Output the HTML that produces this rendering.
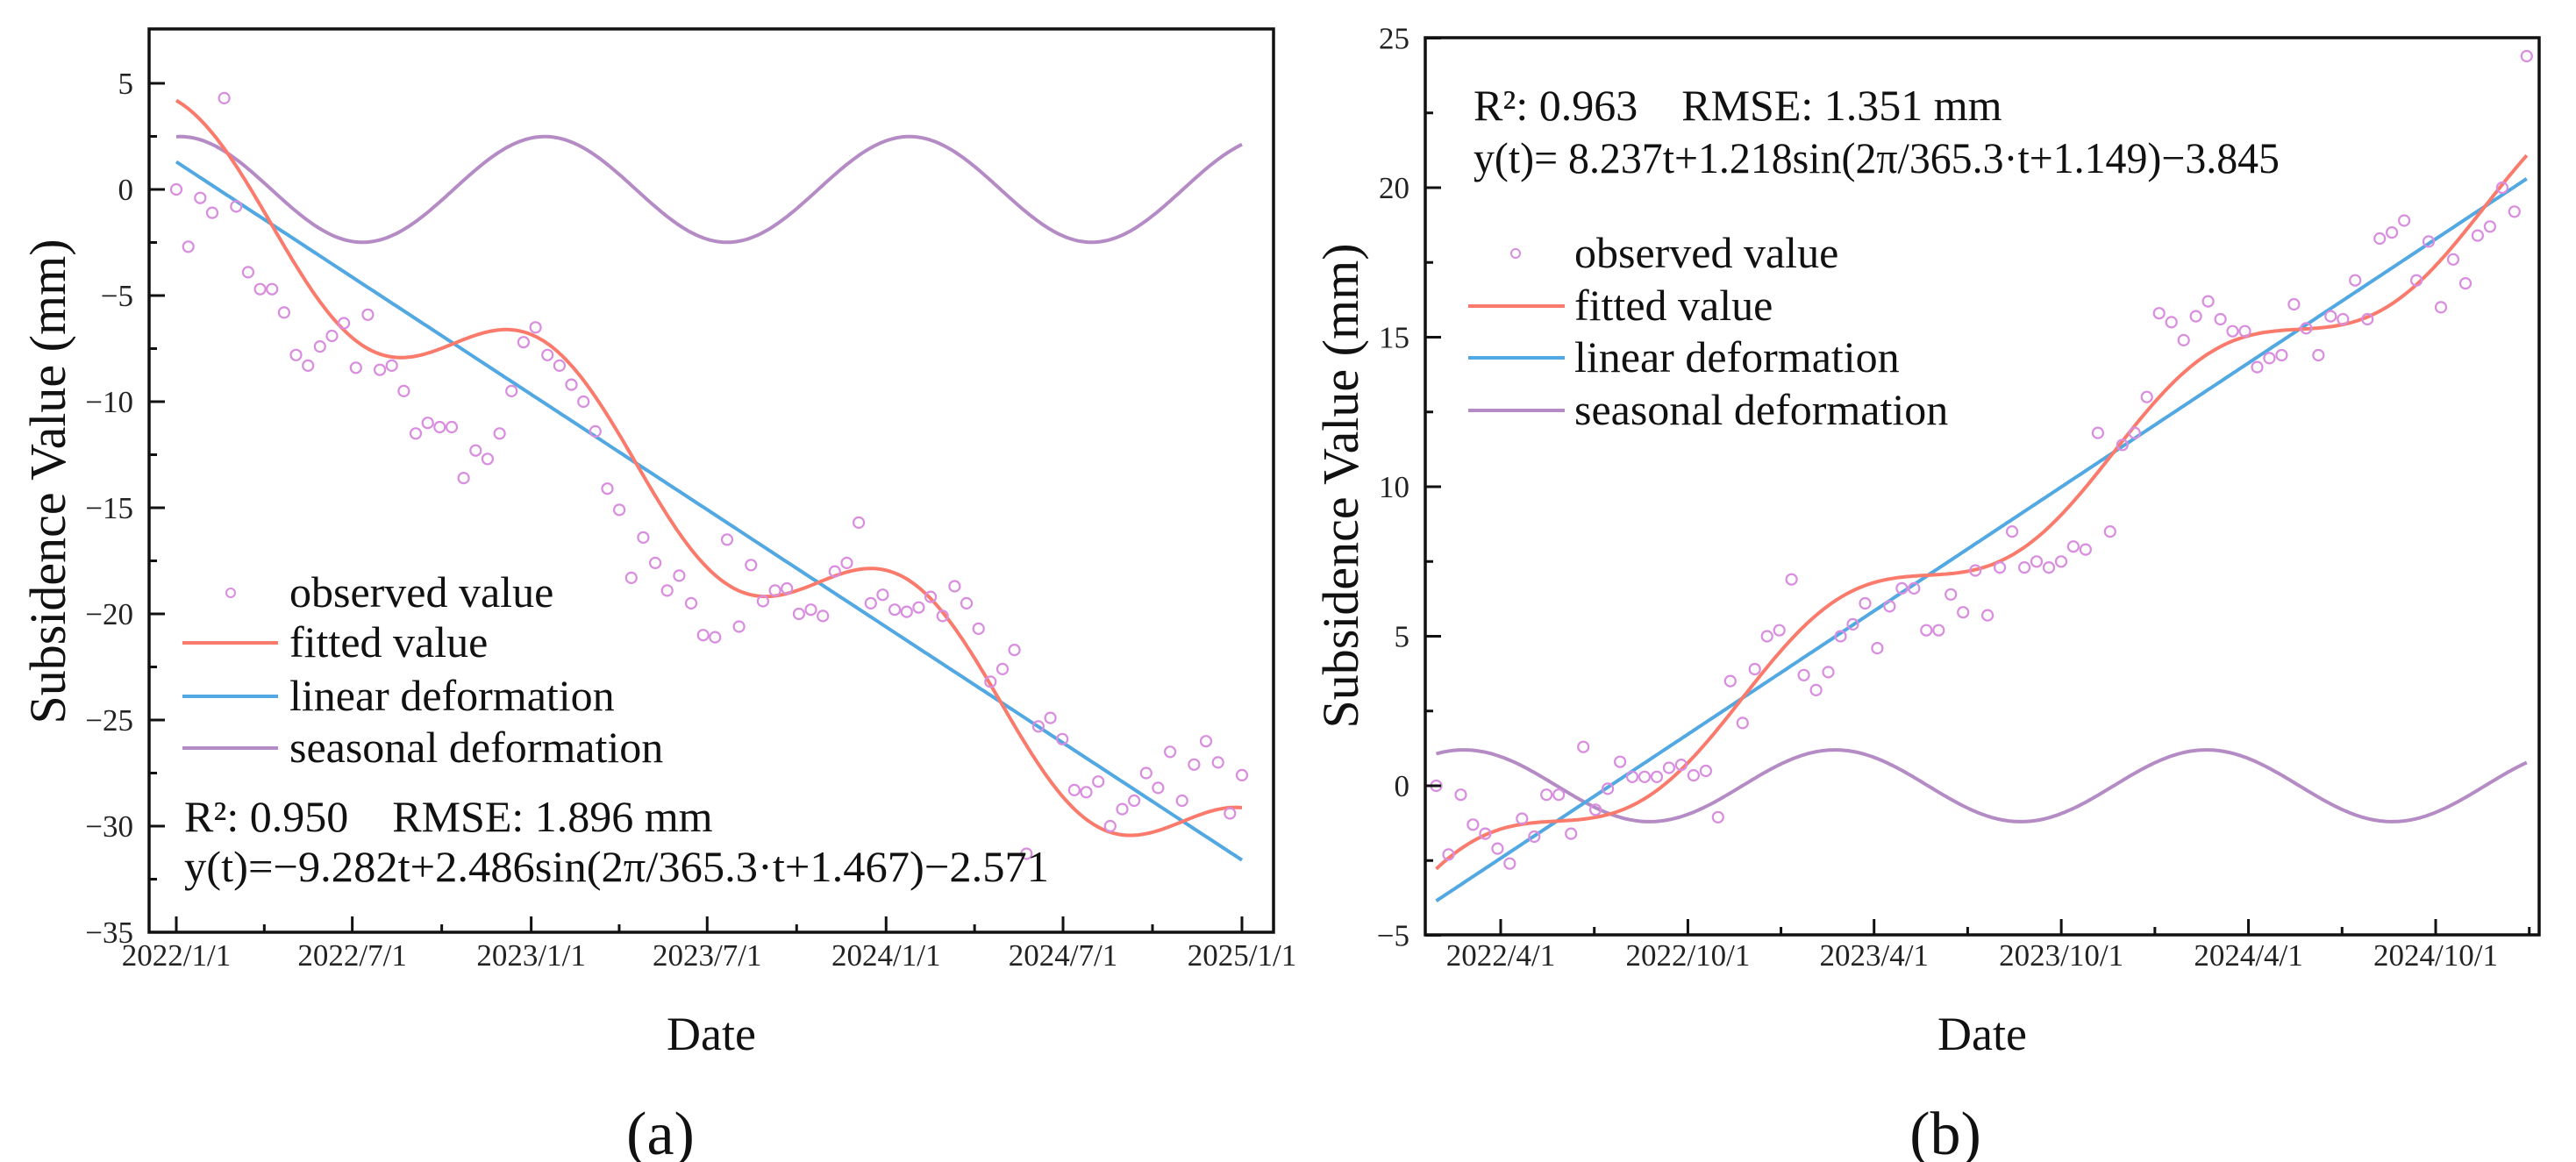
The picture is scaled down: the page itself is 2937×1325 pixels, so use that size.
<!DOCTYPE html>
<html><head><meta charset="utf-8"><style>
html,body{margin:0;padding:0;background:#fff;}
svg{display:block;font-family:"Liberation Serif",serif;}
text{white-space:pre;}
</style></head><body>
<svg id="fig" width="2937" height="1325" viewBox="0 0 2937 1325" xmlns="http://www.w3.org/2000/svg">
<g id="pa"></g>
<g id="pb"></g>
</svg>
<script>
// ---------- Panel (a) data ----------
const obsA = [0,-2.7,-0.4,-1.1,4.3,-0.8,-3.9,-4.7,-4.7,-5.8,-7.8,-8.3,-7.4,-6.9,-6.3,-8.4,-5.9,-8.5,-8.3,-9.5,
-11.5,-11.0,-11.2,-11.2,-13.6,-12.3,-12.7,-11.5,-9.5,-7.2,-6.5,-7.8,-8.3,-9.2,-10.0,-11.4,-14.1,-15.1,-18.3,-16.4,
-17.6,-18.9,-18.2,-19.5,-21.0,-21.1,-16.5,-20.6,-17.7,-19.4,-18.9,-18.8,-20.0,-19.8,-20.1,-18.0,-17.6,-15.7,-19.5,-19.1,
-19.8,-19.9,-19.7,-19.2,-20.1,-18.7,-19.5,-20.7,-23.2,-22.6,-21.7,-31.3,-25.3,-24.9,-25.9,-28.3,-28.4,-27.9,-30.0,-29.2,
-28.8,-27.5,-28.2,-26.5,-28.8,-27.1,-26.0,-27.0,-29.4,-27.6];
const obsDaysA = [0, 1096];
const linearA = [1.3, -31.6];
const seasonalA = [2.49, 375, 4];      // amplitude, period(days), peak day
const fitAmpA = [2.9];                 // seasonal amplitude used in fitted curve
const yTicksA = [-35,-30,-25,-20,-15,-10,-5,0,5];
const xTickDaysA = [0,181,365,546,730,912,1096];
const xTickLabelsA = ["2022/1/1","2022/7/1","2023/1/1","2023/7/1","2024/1/1","2024/7/1","2025/1/1"];
// ---------- Panel (b) data ----------
const obsB = [0.0,-2.3,-0.3,-1.3,-1.6,-2.1,-2.6,-1.1,-1.7,-0.3,
-0.3,-1.6,1.3,-0.8,-0.1,0.8,0.3,0.3,0.3,0.6,
0.7,0.35,0.5,-1.05,3.5,2.1,3.9,5.0,5.2,6.9,
3.7,3.2,3.8,5.0,5.4,6.1,4.6,6.0,6.6,6.6,
5.2,5.2,6.4,5.8,7.2,5.7,7.3,8.5,7.3,7.5,
7.3,7.5,8.0,7.9,11.8,8.5,11.4,11.8,13.0,15.8,
15.5,14.9,15.7,16.2,15.6,15.2,15.2,14.0,14.3,14.4,
16.1,15.3,14.4,15.7,15.6,16.9,15.6,18.3,18.5,18.9,
16.9,18.2,16.0,17.6,16.8,18.4,18.7,20.0,19.2,24.4];
const obsDaysB = [27, 1093];
const linearB = [-3.85, 20.3];
const seasonalB = [1.2, 363, 54];
const fitAmpB = [1.2];
const yTicksB = [-5,0,5,10,15,20,25];
const xTickDaysB = [90,273,455,638,821,1004];
const xTickLabelsB = ["2022/4/1","2022/10/1","2023/4/1","2023/10/1","2024/4/1","2024/10/1"];

const NS="http://www.w3.org/2000/svg";
const C_OBS="#d98ddf", C_FIT="#fa7a6c", C_LIN="#52a8e2", C_SEA="#b48bc5";
function mk(parent, tag, attrs){const e=document.createElementNS(NS,tag);for(const k in attrs)e.setAttribute(k,attrs[k]);parent.appendChild(e);return e;}

function drawPanel(g, cfg){
  const xs = d => cfg.x0 + (d - cfg.d0) * cfg.pxPerDay;
  const ys = v => cfg.yZero - v * cfg.pxPerUnit;
  const n = cfg.obs.length;
  const dayOf = i => cfg.obsDays[0] + (cfg.obsDays[1]-cfg.obsDays[0]) * i/(n-1);
  const lin = d => cfg.linear[0] + (cfg.linear[1]-cfg.linear[0])*(d-cfg.obsDays[0])/(cfg.obsDays[1]-cfg.obsDays[0]);
  const cosT = d => Math.cos(2*Math.PI*(d-cfg.seasonal[2])/cfg.seasonal[1]);
  const sea = d => cfg.seasonal[0]*cosT(d);
  const fit = d => lin(d) + cfg.fitAmp[0]*cosT(d);
  const cid = cfg.id+"clip";
  const defs = mk(g,"defs",{});
  const cp = mk(defs,"clipPath",{id:cid});
  mk(cp,"rect",{x:cfg.L,y:cfg.T,width:cfg.R-cfg.L,height:cfg.B-cfg.T});
  const plot = mk(g,"g",{"clip-path":"url(#"+cid+")"});
  
  
  function curve(fn, color, name){
    let d=""; const a=cfg.obsDays[0], b=cfg.obsDays[1];
    for(let k=0;k<=400;k++){const day=a+(b-a)*k/400; d+=(k?"L":"M")+xs(day).toFixed(1)+","+ys(fn(day)).toFixed(1);}
    const p = mk(plot,"path",{d:d,fill:"none",stroke:color,"stroke-width":4,"stroke-linejoin":"round"});
    
    
  }
  curve(sea, C_SEA, "seasonal-deformation-line");
  curve(lin, C_LIN, "linear-deformation-line");
  curve(fit, C_FIT, "fitted-value-line");
  for(let i=0;i<n;i++){
    const c = mk(plot,"circle",{cx:xs(dayOf(i)).toFixed(1),cy:ys(cfg.obs[i]).toFixed(1),r:6,fill:"none",stroke:C_OBS,"stroke-width":2.2});
    
    
  }
  const fr = mk(g,"rect",{x:cfg.L,y:cfg.T,width:cfg.R-cfg.L,height:cfg.B-cfg.T,fill:"none",stroke:"#111","stroke-width":3.5});
  
  
  const yt = cfg.yTicks;
  for(let i=0;i<yt.length;i++){
    const y=ys(yt[i]);
    mk(g,"line",{x1:cfg.L,x2:cfg.L+18,y1:y,y2:y,stroke:"#111","stroke-width":3});
    if(i<yt.length-1){const ym=ys((yt[i]+yt[i+1])/2); mk(g,"line",{x1:cfg.L,x2:cfg.L+9,y1:ym,y2:ym,stroke:"#111","stroke-width":3});}
    const t = mk(g,"text",{x:cfg.L-18,y:y+12,"text-anchor":"end","font-size":35,fill:"#222"});
    t.textContent = String(yt[i]).replace("-","\u2212");
    
    
  }
  const xt = cfg.xTickDays;
  for(let i=0;i<xt.length;i++){
    const x=xs(xt[i]);
    mk(g,"line",{x1:x,x2:x,y1:cfg.B,y2:cfg.B-18,stroke:"#111","stroke-width":3});
    const t = mk(g,"text",{x:x,y:cfg.xLabY,"text-anchor":"middle","font-size":35,fill:"#222"});
    t.textContent = cfg.xTickLabels[i];
    
    
  }
  for(let i=-1;i<xt.length;i++){
    const a = i<0 ? xt[0]-(xt[1]-xt[0]) : xt[i];
    const b = i+1<xt.length ? xt[i+1] : xt[i]+(xt[1]-xt[0]);
    const xm = xs((a+b)/2);
    if(xm>cfg.L+2 && xm<cfg.R-2) mk(g,"line",{x1:xm,x2:xm,y1:cfg.B,y2:cfg.B-9,stroke:"#111","stroke-width":3});
  }
  const yt2 = mk(g,"text",{x:0,y:0,"text-anchor":"middle","font-size":58,fill:"#111",transform:`translate(${cfg.yTitleX},${cfg.yTitleY}) rotate(-90)`,dy:20});
  yt2.textContent="Subsidence Value (mm)";
  
  
  const xtT = mk(g,"text",{x:cfg.dateX,y:cfg.dateY+19,"text-anchor":"middle","font-size":54,fill:"#111"});
  xtT.textContent="Date";
  
  
  const pl = mk(g,"text",{x:cfg.capX,y:cfg.capY+24,"text-anchor":"middle","font-size":70,fill:"#111"});
  pl.textContent=cfg.caption;
  
  
  const lg = mk(g,"g",{});
  
  
  const items=[["observed value",C_OBS,"o"],["fitted value",C_FIT,"l"],["linear deformation",C_LIN,"l"],["seasonal deformation",C_SEA,"l"]];
  items.forEach((it,k)=>{
    const y=cfg.legY[k];
    if(it[2]==="o"){mk(lg,"circle",{cx:cfg.legMX,cy:y,r:5,fill:"none",stroke:it[1],"stroke-width":2});}
    else mk(lg,"line",{x1:cfg.legL1,x2:cfg.legL2,y1:y,y2:y,stroke:it[1],"stroke-width":4});
    const t=mk(lg,"text",{x:cfg.legTX,y:y+16,"font-size":50,fill:"#111"});
    t.textContent=it[0];
    
    
  });
  const a1=mk(g,"text",{x:cfg.annX,y:cfg.annY[0]+16,"font-size":50,fill:"#111"});
  a1.textContent=cfg.ann[0];
  
  
  const a2=mk(g,"text",{x:cfg.annX,y:cfg.annY[1]+16,"font-size":50,fill:"#111",textLength:cfg.annLen,lengthAdjust:"spacingAndGlyphs"});
  a2.textContent=cfg.ann[1];
  
  
}

drawPanel(document.getElementById("pa"),{
  id:"a", L:170,R:1452,T:33,B:1063, x0:201,d0:0,pxPerDay:1215/1096, yZero:216,pxPerUnit:24.2,
  obs:obsA, obsDays:obsDaysA, linear:linearA, seasonal:seasonalA, fitAmp:fitAmpA,
  yTicks:yTicksA, xTickDays:xTickDaysA, xTickLabels:xTickLabelsA, xLabY:1101,
  yTitleX:54,yTitleY:549, dateX:811,dateY:1178, capX:753,capY:1292, caption:"(a)",
  legY:[676,733,794,853], legMX:263, legL1:208, legL2:317, legTX:330,
  annX:210, annY:[932,989], annLen:986,
  ann:["R\u00b2: 0.950    RMSE: 1.896 mm","y(t)=\u22129.282t+2.486sin(2\u03c0/365.3\u00b7t+1.467)\u22122.571"]
});
drawPanel(document.getElementById("pb"),{
  id:"b", L:1625,R:2895,T:43,B:1066, x0:1711,d0:90,pxPerDay:1066/914, yZero:896,pxPerUnit:34.1,
  obs:obsB, obsDays:obsDaysB, linear:linearB, seasonal:seasonalB, fitAmp:fitAmpB,
  yTicks:yTicksB, xTickDays:xTickDaysB, xTickLabels:xTickLabelsB, xLabY:1101,
  yTitleX:1528,yTitleY:554, dateX:2260,dateY:1178, capX:2218,capY:1292, caption:"(b)",
  legY:[289,349,408,468], legMX:1728, legL1:1674, legL2:1784, legTX:1795,
  annX:1680, annY:[121,181], annLen:919,
  ann:["R\u00b2: 0.963    RMSE: 1.351 mm","y(t)= 8.237t+1.218sin(2\u03c0/365.3\u00b7t+1.149)\u22123.845"]
});
</script>
</body></html>
